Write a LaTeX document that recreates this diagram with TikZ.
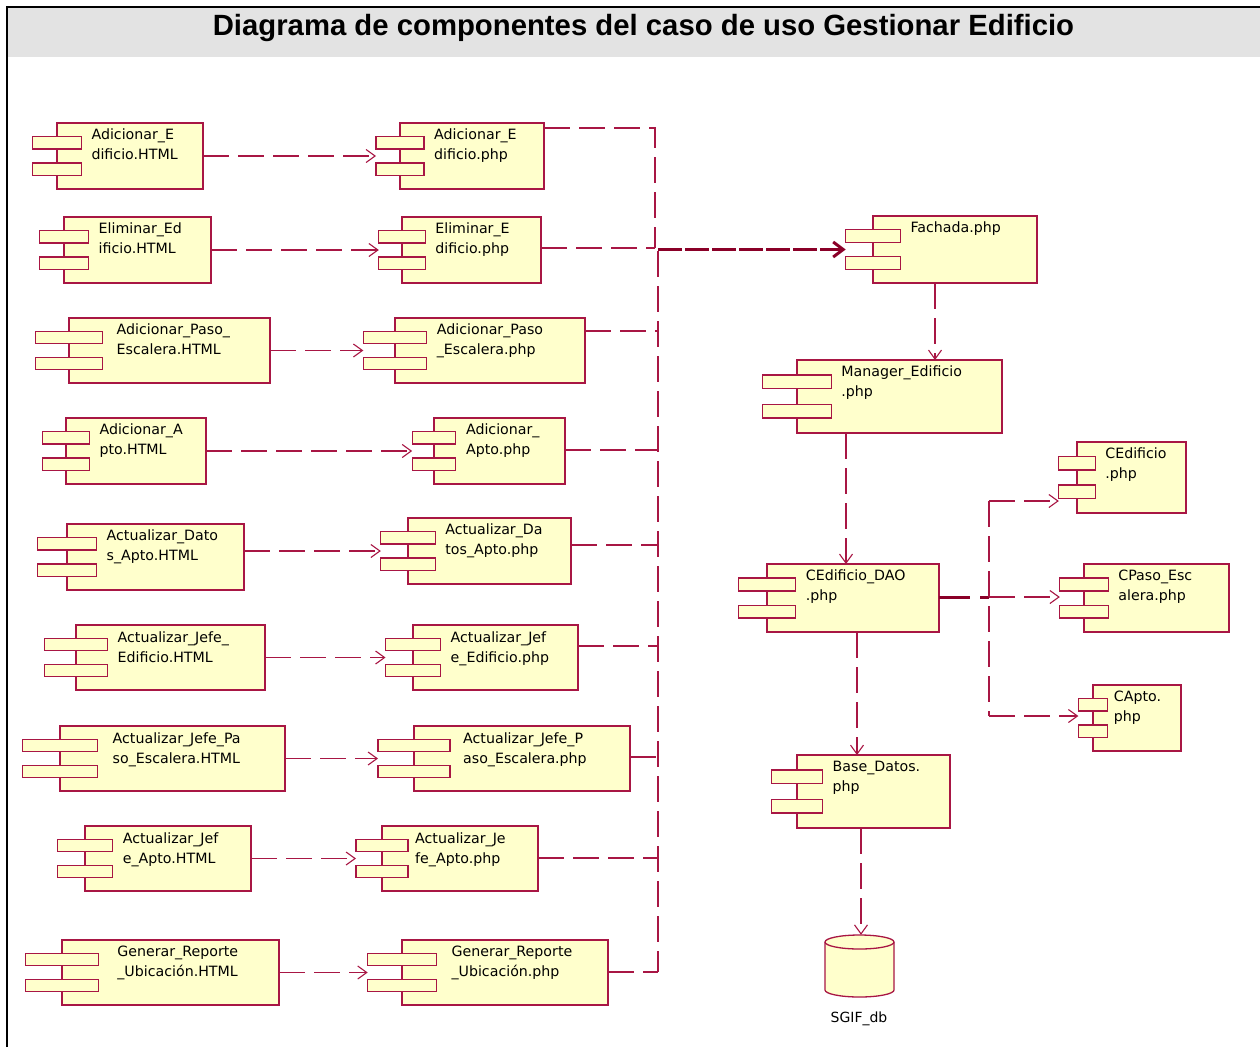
\documentclass[tikz,border=0pt]{standalone}
\usepackage{fontspec}
\setmainfont{Liberation Sans}
\newfontfamily\boxfont{DejaVu Sans}
\usetikzlibrary{arrows.meta}

\definecolor{umlred}{RGB}{168,22,68}
\definecolor{umlfill}{RGB}{255,255,204}
\definecolor{umldark}{RGB}{138,0,40}
\definecolor{titlegray}{RGB}{227,227,227}

\tikzset{
  compbox/.style={draw=umlred, fill=umlfill, line width=1.3pt, inner sep=0pt, outer sep=0pt},
  comptab/.style={draw=umlred, fill=umlfill, line width=1.3pt, inner sep=0pt, outer sep=0pt},
  complabel/.style={anchor=north west, inner sep=0pt, align=left,
    font=\boxfont\fontsize{14.2}{20}\selectfont},
  dep/.style={draw=umlred, line width=1.1pt, dash pattern=on 26pt off 9pt,
    -{Straight Barb[length=9pt,width=13pt]}},
  busline/.style={draw=umlred, line width=1.1pt, dash pattern=on 26pt off 9pt},
  heavydep/.style={draw=umldark, line width=3pt, dash pattern=on 24pt off 3pt,
    -{Straight Barb[length=10pt,width=15pt,line width=3pt]}},
  heavyline/.style={draw=umldark, line width=3pt},
}

% UML component: [text shift], name, left, top, right, bottom, first line, second line
\newcommand\umlcomp[8][0]{%
  \pgfmathsetmacro\compW{#5-#3}%
  \pgfmathsetmacro\compH{#6-#4}%
  \pgfmathsetmacro\compX{(#3+#5)/2}%
  \pgfmathsetmacro\compY{(#4+#6)/2}%
  \pgfmathsetmacro\tabW{\compW/3}%
  \pgfmathsetmacro\tabH{0.19*\compH}%
  \pgfmathsetmacro\tabA{#4+0.30*\compH}%
  \pgfmathsetmacro\tabB{#4+0.70*\compH}%
  \pgfmathsetmacro\txtX{#3+\compW/6+10+#1}%
  \pgfmathsetmacro\txtY{#4+6}%
  \node[compbox, minimum width=\compW pt, minimum height=\compH pt] (#2) at (\compX,\compY) {};
  \node[comptab, minimum width=\tabW pt, minimum height=\tabH pt] (#2-a) at (#3,\tabA) {};
  \node[comptab, minimum width=\tabW pt, minimum height=\tabH pt] (#2-b) at (#3,\tabB) {};
  \node[complabel] (#2-l) at (\txtX,\txtY) {\rule{0pt}{10pt}#7\\\rule{0pt}{10pt}#8};
}

\begin{document}
\begin{tikzpicture}[x=1pt, y=-1pt]
\useasboundingbox (0,0) rectangle (1260,1047);
\fill[white] (0,0) rectangle (1260,1047);

% title band and frame
\fill[titlegray] (7,7) rectangle (1260,57);
\draw[line width=2pt] (6.5,1047) -- (6.5,6.5) -- (1260,6.5);
\node[font=\bfseries\fontsize{29.3}{33}\selectfont, inner sep=0pt] (title) at (643.5,28)
  {Diagrama de componentes del caso de uso Gestionar Edificio};

% user interface pages
\umlcomp{h1}{57}{123}{203}{189}{Adicionar\_E}{dificio.HTML}
\umlcomp{h2}{64}{217}{211}{283}{Eliminar\_Ed}{ificio.HTML}
\umlcomp[4]{h3}{69}{318}{270}{383}{Adicionar\_Paso\_}{Escalera.HTML}
\umlcomp{h4}{66}{418}{206}{484}{Adicionar\_A}{pto.HTML}
\umlcomp{h5}{67}{524}{244}{590}{Actualizar\_Dato}{s\_Apto.HTML}
\umlcomp{h6}{76}{625}{265}{690}{Actualizar\_Jefe\_}{Edificio.HTML}
\umlcomp[5]{h7}{60}{726}{285}{791}{Actualizar\_Jefe\_Pa}{so\_Escalera.HTML}
\umlcomp{h8}{85}{826}{251}{891}{Actualizar\_Jef}{e\_Apto.HTML}
\umlcomp[9]{h9}{62}{940}{279}{1005}{Generar\_Reporte}{\_Ubicación.HTML}

% server pages
\umlcomp{p1}{400}{123}{544}{189}{Adicionar\_E}{dificio.php}
\umlcomp{p2}{402}{217}{541}{283}{Eliminar\_E}{dificio.php}
\umlcomp{p3}{395}{318}{585}{383}{Adicionar\_Paso}{\_Escalera.php}
\umlcomp{p4}{434}{418}{565}{484}{Adicionar\_}{Apto.php}
\umlcomp{p5}{408}{518}{571}{584}{Actualizar\_Da}{tos\_Apto.php}
\umlcomp{p6}{413}{625}{578}{690}{Actualizar\_Jef}{e\_Edificio.php}
\umlcomp[3]{p7}{414}{726}{630}{791}{Actualizar\_Jefe\_P}{aso\_Escalera.php}
\umlcomp[-3]{p8}{382}{826}{538}{891}{Actualizar\_Je}{fe\_Apto.php}
\umlcomp[5]{p9}{402}{940}{608}{1005}{Generar\_Reporte}{\_Ubicación.php}

% business and data layers
\umlcomp{fach}{873}{216}{1037}{283}{Fachada.php}{}
\umlcomp{man}{797}{360}{1002}{433}{Manager\_Edificio}{.php}
\umlcomp{dao}{767}{564}{939}{632}{CEdificio\_DAO}{.php}
\umlcomp{ced}{1077}{442}{1186}{513}{CEdificio}{.php}
\umlcomp{cpe}{1084}{564}{1229}{632}{CPaso\_Esc}{alera.php}
\umlcomp[-4]{cap}{1093}{685}{1181}{751}{CApto.}{php}
\umlcomp{base}{797}{755}{950}{828}{Base\_Datos.}{php}

% database
\node[minimum width=69pt, minimum height=62pt, inner sep=0pt] (db) at (859.5,966) {};
\draw[draw=umlred, fill=umlfill, line width=1.3pt]
  (825,942) -- (825,990) arc[start angle=180, end angle=360, x radius=34.5pt, y radius=7pt]
  -- (894,942) arc[start angle=0, end angle=180, x radius=34.5pt, y radius=7pt] -- cycle;
\draw[draw=umlred, line width=1.3pt]
  (825,942) arc[start angle=180, end angle=360, x radius=34.5pt, y radius=7pt];
\node[font=\boxfont\fontsize{14}{16}\selectfont, inner sep=0pt] (dbl) at (859,1019) {SGIF\_db};

% page to page dependencies
\foreach \i in {1,...,9}
  \draw[dep] (h\i.east |- p\i.center) -- (p\i-a.west |- p\i.center);

% collecting bus towards the facade
\coordinate (b1) at (655,128);
\coordinate (bj) at (655,248);
\coordinate (bs) at (658,251);
\coordinate (b3) at (658,331);
\coordinate (b4) at (658,450);
\coordinate (b5) at (658,545);
\coordinate (b6) at (658,646);
\coordinate (b7) at (658,757);
\coordinate (b8) at (658,858);
\coordinate (b9) at (658,972);
\draw[busline] (p1.east |- b1) -- (b1) -- (bj);
\draw[busline] (p2.east |- bj) -- (bj);
\draw[busline] (bs) -- (b9);
\foreach \i in {3,...,9}
  \draw[busline] (p\i.east |- b\i) -- (b\i);
\draw[heavydep] (bs |- fach.center) -- (fach-a.west |- fach.center);

% vertical chain
\draw[dep] (935,0 |- fach.south) -- (935,0 |- man.north);
\draw[dep] (846,0 |- man.south) -- (846,0 |- dao.north);
\draw[dep] (857,0 |- dao.south) -- (857,0 |- base.north);
\draw[dep] (861,0 |- base.south) -- (861,0 |- db.north);

% DAO to entity classes
\coordinate (rt) at (989,501);
\coordinate (rm) at (989,597);
\coordinate (rb) at (989,716);
\coordinate (stub) at (970,597);
\coordinate (stubb) at (980,597);
\draw[heavyline] (dao.east |- rm) -- (stub);
\draw[heavyline] (stubb) -- (rm);
\draw[busline] (rt) -- (rb);
\draw[dep] (rt) -- (ced-b.west |- rt);
\draw[dep] (rm) -- (cpe-a.west |- rm);
\draw[dep] (rb) -- (cap-a.west |- rb);
\end{tikzpicture}
\end{document}
